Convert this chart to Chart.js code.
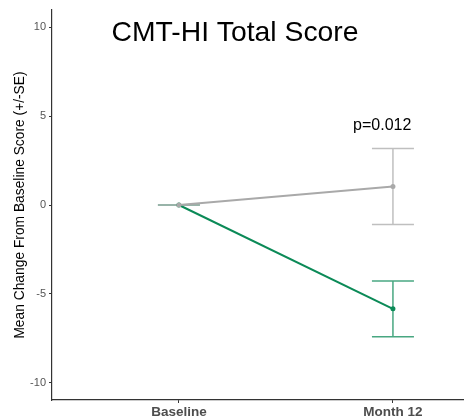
<!DOCTYPE html>
<html>
<head>
<meta charset="utf-8">
<script src="https://cdn.jsdelivr.net/npm/chart.js@4.4.1/dist/chart.umd.min.js"></script>
<style>
  html, body { margin: 0; padding: 0; background: #fff; }
  #wrap { position: relative; width: 464px; height: 417px; }
</style>
</head>
<body>
<div id="wrap"><canvas id="chart" width="464" height="417"></canvas></div>
<script>
// timepoints on the x axis
const visits = ['Baseline', 'Month 12']
const visitPos = [0, 1]

// mean change from baseline and its standard error
const controlMean = [0, 1.04]
const controlSE = [0, 2.14]
const treatedMean = [0, -5.84]
const treatedSE = [0, 1.57]

const yTicks = [-10, -5, 0, 5, 10]
const pLabel = 'p=0.012'
const titleText = 'CMT-HI Total Score'

const grey = '#a9a9a9'
const green = '#0b8a57'

const toPoints = (means) => means.map((m, i) => ({ x: visitPos[i], y: m }))

// draw the +/- SE whiskers from the dataset values
const errorBars = {
  id: 'errorBars',
  beforeDatasetsDraw(chart) {
    const { ctx, scales: { x, y } } = chart
    const sets = [
      { mean: treatedMean, se: treatedSE, color: 'rgba(11,138,87,0.75)' },
      { mean: controlMean, se: controlSE, color: 'rgba(175,175,175,0.8)' },
    ]
    ctx.save()
    ctx.lineWidth = 1.5
    for (let s of sets) {
      ctx.strokeStyle = s.color
      s.mean.forEach((m, i) => {
        const px = x.getPixelForValue(visitPos[i])
        const top = y.getPixelForValue(m + s.se[i])
        const bot = y.getPixelForValue(m - s.se[i])
        ctx.beginPath()
        ctx.moveTo(px, top)
        ctx.lineTo(px, bot)
        ctx.moveTo(px - 21, top)
        ctx.lineTo(px + 21, top)
        ctx.moveTo(px - 21, bot)
        ctx.lineTo(px + 21, bot)
        ctx.stroke()
      })
    }
    ctx.restore()
  },
}

// title and p-value sit inside the plot panel
const labels = {
  id: 'labels',
  afterDraw(chart) {
    const { ctx, scales: { x, y } } = chart
    ctx.save()
    ctx.fillStyle = '#000'
    ctx.textAlign = 'center'
    ctx.textBaseline = 'alphabetic'
    ctx.font = '28.3px "Liberation Sans", Arial, sans-serif'
    ctx.fillText(titleText, x.getPixelForValue(0.262), y.getPixelForValue(9.23))
    ctx.font = '16px "Liberation Sans", Arial, sans-serif'
    ctx.fillText(pLabel, x.getPixelForValue(0.95), y.getPixelForValue(4.22))
    ctx.restore()
  },
}

new Chart(document.getElementById('chart'), {
  type: 'line',
  data: {
    datasets: [
      // first dataset is drawn on top, so grey sits over green at baseline
      {
        label: 'Control',
        data: toPoints(controlMean),
        borderColor: grey,
        backgroundColor: grey,
        borderWidth: 2,
        pointRadius: 2.5,
        pointBorderWidth: 0,
      },
      {
        label: 'Treatment',
        data: toPoints(treatedMean),
        borderColor: green,
        backgroundColor: green,
        borderWidth: 2,
        pointRadius: 2.5,
        pointBorderWidth: 0,
      },
    ],
  },
  options: {
    responsive: false,
    animation: false,
    layout: { autoPadding: false, padding: { top: 10, right: 0, left: 0, bottom: 0 } },
    plugins: {
      legend: { display: false },
      tooltip: { enabled: false },
    },
    scales: {
      x: {
        type: 'linear',
        min: -0.593,
        max: 1.332,
        afterBuildTicks: (axis) => {
          axis.ticks = visitPos.map((v) => ({ value: v }))
        },
        afterFit: (axis) => {
          axis.height = 17
          axis.paddingLeft = 0
          axis.paddingRight = 0
        },
        ticks: {
          callback: (v) => visits[visitPos.indexOf(v)] ?? '',
          color: '#4d4d4d',
          font: { family: '"Liberation Sans", Arial, sans-serif', size: 13.5, weight: 'bold' },
          padding: 1,
          maxRotation: 0,
        },
        grid: { drawOnChartArea: false, tickLength: 3, tickColor: '#333', tickWidth: 1 },
        border: { color: '#333', width: 1.2 },
      },
      y: {
        min: -10.97,
        max: 10.97,
        afterBuildTicks: (axis) => {
          axis.ticks = yTicks.map((v) => ({ value: v }))
        },
        afterFit: (axis) => {
          axis.width = 52
        },
        ticks: {
          color: '#555',
          font: { family: '"Liberation Sans", Arial, sans-serif', size: 11 },
          padding: 3,
        },
        title: {
          display: true,
          text: 'Mean Change From Baseline Score (+/-SE)',
          color: '#000',
          font: { family: '"Liberation Sans", Arial, sans-serif', size: 13.8 },
          padding: { top: 12, bottom: 0 },
        },
        grid: { drawOnChartArea: false, tickLength: 3, tickColor: '#333', tickWidth: 1 },
        border: { color: '#333', width: 1.2 },
      },
    },
  },
  plugins: [errorBars, labels],
})
</script>
</body>
</html>
